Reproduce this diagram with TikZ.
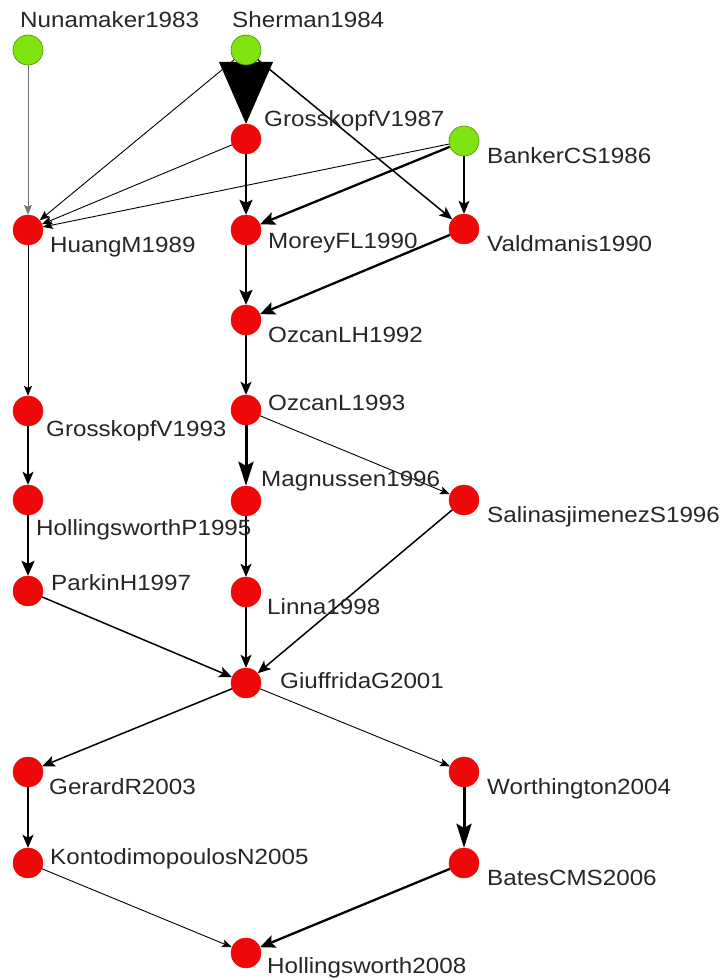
\documentclass[tikz,border=0pt]{standalone}
\usepackage{fontspec}
\setmainfont{Liberation Sans}[FakeStretch=1.1]
\usetikzlibrary{arrows.meta,backgrounds}
\definecolor{nodegreen}{RGB}{128,228,16}
\definecolor{nodered}{RGB}{238,8,8}
\begin{document}
\begin{tikzpicture}[%
            x=1pt, y=-1pt,
            greennode/.style={shape=circle,fill=nodegreen,draw=nodegreen!60!black,line width=0.6pt,minimum size=30pt,inner sep=0pt},
            rednode/.style={shape=circle,fill=nodered,draw=nodered,minimum size=30pt,inner sep=0pt},
            lbl/.style={anchor=base west,inner sep=0pt,text=black!85,font=\fontsize{22}{26}\selectfont},
            thinedge/.style={line width=0.9pt,-{Stealth[length=10pt,width=8pt,inset=2pt]}},
            midedge/.style={line width=1.5pt,-{Stealth[length=13pt,width=11pt,inset=3pt]}},
            thickedge/.style={line width=2.3pt,-{Stealth[length=15pt,width=13pt,inset=3pt]}},
            bigedge/.style={line width=3pt,-{Stealth[length=24pt,width=15pt,inset=4pt]}}
    ]
        \useasboundingbox (0,0) rectangle (725,979);

        % papers
        \node [greennode] (nuna) at (28,50) {};
        \node [greennode] (sher) at (246,50) {};
        \node [rednode] (gk87) at (246,139) {};
        \node [greennode] (bank) at (464,141) {};
        \node [rednode] (huang) at (28,230) {};
        \node [rednode] (morey) at (246,230) {};
        \node [rednode] (vald) at (464,229) {};
        \node [rednode] (ozlh) at (246,320) {};
        \node [rednode] (gk93) at (28,411) {};
        \node [rednode] (ozl) at (246,410) {};
        \node [rednode] (holp) at (28,500) {};
        \node [rednode] (magn) at (246,501) {};
        \node [rednode] (sali) at (464,500) {};
        \node [rednode] (park) at (28,591) {};
        \node [rednode] (linna) at (246,592) {};
        \node [rednode] (giuf) at (246,683) {};
        \node [rednode] (gera) at (28,772) {};
        \node [rednode] (wort) at (464,772) {};
        \node [rednode] (kont) at (28,863) {};
        \node [rednode] (bates) at (464,863) {};
        \node [rednode] (holl) at (246,953) {};

        % names
        \node [lbl] (nuna-l) at (20,28) {Nunamaker1983};
        \node [lbl] (sher-l) at (232,28) {Sherman1984};
        \node [lbl] (gk87-l) at (264,127) {GrosskopfV1987};
        \node [lbl] (bank-l) at (487,163) {BankerCS1986};
        \node [lbl] (huang-l) at (50,252) {HuangM1989};
        \node [lbl] (morey-l) at (268,248) {MoreyFL1990};
        \node [lbl] (vald-l) at (487,251) {Valdmanis1990};
        \node [lbl] (ozlh-l) at (268,342) {OzcanLH1992};
        \node [lbl] (gk93-l) at (46,436) {GrosskopfV1993};
        \node [lbl] (ozl-l) at (268,410) {OzcanL1993};
        \node [lbl] (magn-l) at (261,486) {Magnussen1996};
        \node [lbl] (holp-l) at (36,535) {HollingsworthP1995};
        \node [lbl] (sali-l) at (487,522) {SalinasjimenezS1996};
        \node [lbl] (park-l) at (51,590) {ParkinH1997};
        \node [lbl] (linna-l) at (267,614) {Linna1998};
        \node [lbl] (giuf-l) at (280,688) {GiuffridaG2001};
        \node [lbl] (gera-l) at (49,794) {GerardR2003};
        \node [lbl] (wort-l) at (487,794) {Worthington2004};
        \node [lbl] (kont-l) at (50,864) {KontodimopoulosN2005};
        \node [lbl] (bates-l) at (487,885) {BatesCMS2006};
        \node [lbl] (holl-l) at (267,973) {Hollingsworth2008};

        % citations
        \begin{pgfonlayer}{background}
        \draw [thinedge, draw=black!55] (nuna) -- (huang);
        \draw [line width=0.6pt, -{Triangle[length=62pt,width=54pt]}] (sher) -- (gk87);
        \draw [thinedge] (sher) -- (huang);
        \draw [midedge] (sher) -- (vald);
        \draw [thinedge] (gk87) -- (huang);
        \draw [thickedge] (gk87) -- (morey);
        \draw [thinedge] (bank) -- (huang);
        \draw [thickedge] (bank) -- (morey);
        \draw [midedge] (bank) -- (vald);
        \draw [thickedge] (morey) -- (ozlh);
        \draw [thickedge] (vald) -- (ozlh);
        \draw [midedge] (ozlh) -- (ozl);
        \draw [thinedge] (huang) -- (gk93);
        \draw [bigedge] (ozl) -- (magn);
        \draw [thinedge] (ozl) -- (sali);
        \draw [midedge] (gk93) -- (holp);
        \draw [thickedge] (holp) -- (park);
        \draw [midedge] (magn) -- (linna);
        \draw [midedge] (park) -- (giuf);
        \draw [midedge] (linna) -- (giuf);
        \draw [midedge] (sali) -- (giuf);
        \draw [midedge] (giuf) -- (gera);
        \draw [thinedge] (giuf) -- (wort);
        \draw [midedge] (gera) -- (kont);
        \draw [bigedge] (wort) -- (bates);
        \draw [thinedge] (kont) -- (holl);
        \draw [thickedge] (bates) -- (holl);
        \end{pgfonlayer}
    \end{tikzpicture}
\end{document}
